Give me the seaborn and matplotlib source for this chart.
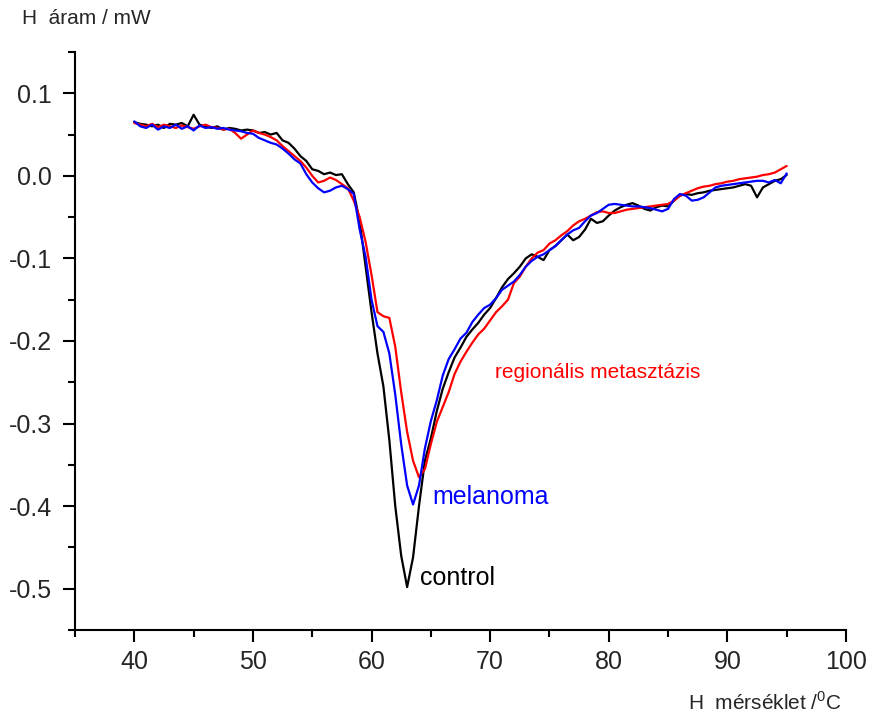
import numpy as np
import pandas as pd
import matplotlib
matplotlib.use("Agg")
import matplotlib.pyplot as plt
from matplotlib.ticker import MultipleLocator, FuncFormatter
import seaborn as sns

temperature = [40 + 0.5 * i for i in range(111)]

control = [
    0.065, 0.063, 0.062, 0.060, 0.062, 0.058, 0.063, 0.062, 0.064, 0.060,
    0.074, 0.062, 0.060, 0.058, 0.060, 0.056, 0.058, 0.057, 0.055, 0.056,
    0.055, 0.052, 0.053, 0.050, 0.052, 0.043, 0.040, 0.033, 0.024, 0.018,
    0.008, 0.006, 0.002, 0.004, 0.001, 0.002, -0.010, -0.020, -0.055, -0.110,
    -0.165, -0.215, -0.255, -0.320, -0.400, -0.460, -0.498, -0.462, -0.400, -0.345,
    -0.318, -0.285, -0.258, -0.238, -0.220, -0.208, -0.195, -0.186, -0.178, -0.168,
    -0.160, -0.148, -0.135, -0.125, -0.118, -0.110, -0.100, -0.095, -0.098, -0.102,
    -0.090, -0.085, -0.078, -0.071, -0.078, -0.074, -0.065, -0.052, -0.057, -0.055,
    -0.048, -0.042, -0.038, -0.035, -0.033, -0.036, -0.040, -0.042, -0.038, -0.036,
    -0.037, -0.030, -0.024, -0.022, -0.023, -0.021, -0.020, -0.018, -0.017, -0.016,
    -0.015, -0.014, -0.012, -0.010, -0.012, -0.026, -0.014, -0.010, -0.006, -0.004,
    0.001,
]

metastasis = [
    0.064, 0.062, 0.060, 0.063, 0.059, 0.062, 0.060, 0.058, 0.061, 0.059,
    0.057, 0.060, 0.062, 0.059, 0.058, 0.056, 0.057, 0.052, 0.045, 0.050,
    0.055, 0.052, 0.050, 0.047, 0.043, 0.036, 0.030, 0.024, 0.018, 0.010,
    0.000, -0.008, -0.006, -0.002, -0.005, -0.010, -0.015, -0.030, -0.050, -0.080,
    -0.120, -0.165, -0.170, -0.172, -0.207, -0.262, -0.310, -0.345, -0.365, -0.355,
    -0.325, -0.298, -0.280, -0.262, -0.240, -0.225, -0.213, -0.202, -0.192, -0.185,
    -0.175, -0.165, -0.158, -0.150, -0.130, -0.122, -0.110, -0.100, -0.093, -0.090,
    -0.082, -0.078, -0.072, -0.067, -0.060, -0.055, -0.052, -0.048, -0.044, -0.043,
    -0.045, -0.045, -0.043, -0.041, -0.040, -0.039, -0.038, -0.037, -0.036, -0.035,
    -0.034, -0.030, -0.024, -0.021, -0.018, -0.015, -0.013, -0.012, -0.010, -0.009,
    -0.007, -0.006, -0.004, -0.003, -0.002, -0.001, 0.001, 0.002, 0.004, 0.008,
    0.012,
]

melanoma = [
    0.066, 0.060, 0.058, 0.062, 0.056, 0.060, 0.058, 0.062, 0.057, 0.060,
    0.055, 0.061, 0.058, 0.059, 0.057, 0.058, 0.056, 0.055, 0.054, 0.052,
    0.051, 0.046, 0.043, 0.040, 0.038, 0.033, 0.027, 0.020, 0.015, 0.002,
    -0.008, -0.015, -0.020, -0.018, -0.014, -0.012, -0.016, -0.022, -0.065, -0.098,
    -0.150, -0.182, -0.189, -0.215, -0.265, -0.325, -0.375, -0.398, -0.375, -0.330,
    -0.297, -0.272, -0.242, -0.222, -0.210, -0.197, -0.190, -0.177, -0.168, -0.160,
    -0.156, -0.148, -0.138, -0.133, -0.128, -0.120, -0.110, -0.103, -0.098, -0.095,
    -0.090, -0.085, -0.078, -0.071, -0.066, -0.063, -0.055, -0.048, -0.045, -0.040,
    -0.035, -0.034, -0.035, -0.036, -0.037, -0.037, -0.038, -0.039, -0.041, -0.043,
    -0.040, -0.028, -0.022, -0.024, -0.030, -0.029, -0.026, -0.020, -0.014, -0.012,
    -0.011, -0.010, -0.009, -0.008, -0.007, -0.006, -0.006, -0.008, -0.005, -0.009,
    0.003,
]

series_names = ["control", "regionális metasztázis", "melanoma"]
series_values = [control, metastasis, melanoma]
series_colors = ["#000000", "#ff0000", "#0000ff"]

sns.set_style("ticks")
plt.rcParams["font.family"] = ["Liberation Sans", "DejaVu Sans"]
plt.rcParams["mathtext.fontset"] = "custom"
plt.rcParams["mathtext.rm"] = "Liberation Sans"

fig = plt.figure(figsize=(8.71, 7.18), dpi=100)
ax = fig.add_axes([75 / 871, 1 - 630 / 718, (846 - 75) / 871, (630 - 52) / 718])

for name, vals, col in zip(series_names, series_values, series_colors):
    df = pd.DataFrame({"T": temperature, "v": vals})
    sns.lineplot(data=df, x="T", y="v", ax=ax, color=col, linewidth=1.6,
                 estimator=None, sort=False)

ax.set_xlim(35, 100)
ax.set_ylim(-0.55, 0.15)
ax.set_xlabel("")
ax.set_ylabel("")
ax.xaxis.set_major_locator(MultipleLocator(10))
ax.xaxis.set_minor_locator(MultipleLocator(5))
ax.yaxis.set_major_locator(MultipleLocator(0.1))
ax.yaxis.set_minor_locator(MultipleLocator(0.05))
ax.yaxis.set_major_formatter(FuncFormatter(lambda v, p: ("%.1f" % v).replace("-0.0", "0.0")))
ax.xaxis.set_major_formatter(FuncFormatter(lambda v, p: "%d" % v if v >= 40 else ""))

for s in ["top", "right"]:
    ax.spines[s].set_visible(False)
for s in ["left", "bottom"]:
    ax.spines[s].set_linewidth(1.5)
    ax.spines[s].set_color("black")
ax.tick_params(which="major", direction="out", length=8.5, width=1.5, labelsize=18, color="black")
ax.tick_params(which="minor", direction="out", length=5, width=1.5, color="black")
ax.tick_params(axis="y", which="major", pad=8)
ax.tick_params(axis="x", which="major", pad=6)

ax.text(70.4, -0.2385, "regionális metasztázis", color="#ff0000", fontsize=15, ha="left", va="center")
ax.text(65.1, -0.389, "melanoma", color="#0000ff", fontsize=18, ha="left", va="center")
ax.text(64.1, -0.487, "control", color="#000000", fontsize=18, ha="left", va="center")

fig.text(22 / 871, 1 - 18 / 718, "H  áram / mW", fontsize=15, ha="left", va="center")
fig.text(842 / 871, 1 - 703 / 718, r"H  mérséklet /$^{\mathregular{0}}$C", fontsize=15, ha="right", va="center")

fig.savefig("out.png", dpi=100, facecolor="white")
